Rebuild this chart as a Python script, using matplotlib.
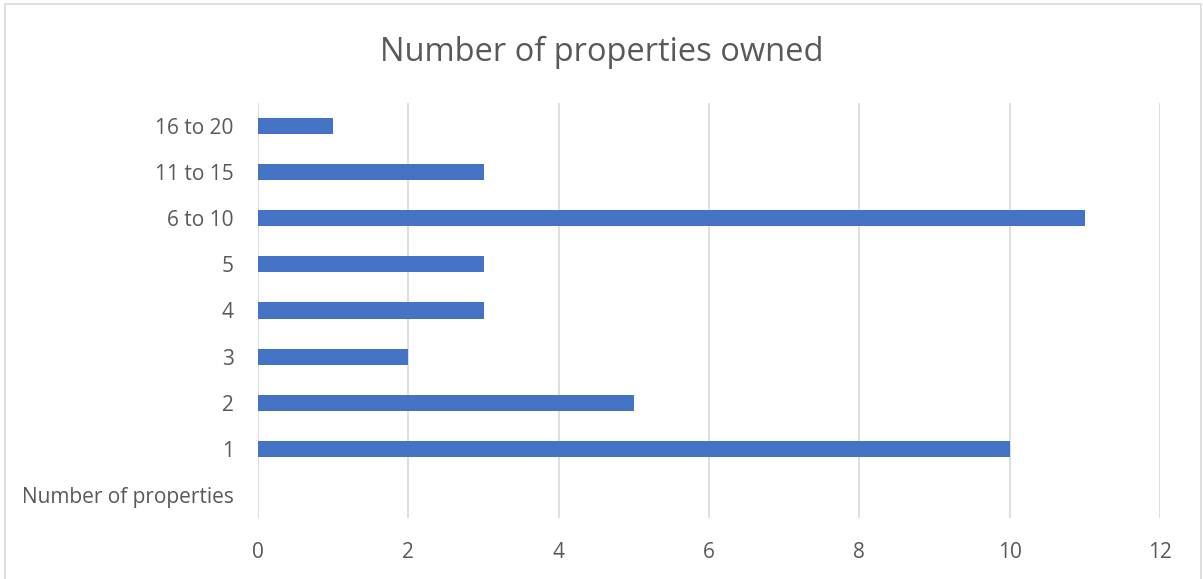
import matplotlib
matplotlib.use("Agg")
import matplotlib.pyplot as plt
from matplotlib.patches import Rectangle

# properties owned per respondent band
categories = ["Number of properties", "1", "2", "3", "4", "5", "6 to 10", "11 to 15", "16 to 20"]
counts = [0, 10, 5, 2, 3, 3, 11, 3, 1]
x_ticks = [0, 2, 4, 6, 8, 10, 12]

text_color = "#595959"
bar_color = "#4472C4"
grid_color = "#D9D9D9"

plt.rcParams["font.family"] = ["Open Sans", "DejaVu Sans"]

fig = plt.figure(figsize=(12.03, 5.79), dpi=100)
ax = fig.add_axes([0.2145, 0.1054, 0.7498, 0.7167])

ypos = list(range(len(categories)))
ax.barh(ypos, counts, height=0.35, color=bar_color, zorder=3)

ax.set_xlim(0, 12)
ax.set_ylim(-0.5, len(categories) - 0.5)
ax.set_xticks(x_ticks)
ax.set_xticklabels([str(t) for t in x_ticks])
ax.set_yticks(ypos)
ax.set_yticklabels(categories)

ax.xaxis.grid(True, color=grid_color, linewidth=1.2, zorder=0)
ax.tick_params(axis="both", length=0, labelsize=15, colors=text_color)
ax.tick_params(axis="x", pad=17)
ax.tick_params(axis="y", pad=17.5)
for s in ax.spines.values():
    s.set_visible(False)

fig.text(0.5, 0.91, "Number of properties owned", ha="center", va="center",
         fontsize=23.5, color=text_color)

# chart frame
fig.patches.append(Rectangle((0.004, -0.01), 0.994, 1.003, transform=fig.transFigure,
                             fill=False, edgecolor="#D9D9D9", linewidth=1.2))

fig.savefig("out.png", dpi=100)
